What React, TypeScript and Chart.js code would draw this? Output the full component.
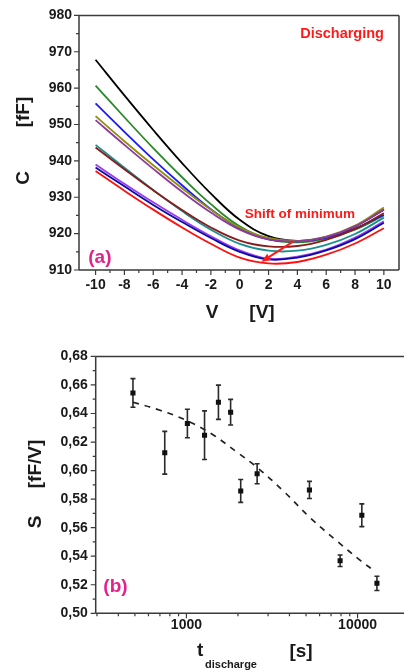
import React, { useEffect, useRef } from "react";
import { Chart, registerables } from "chart.js";

Chart.register(...registerables);

const FONT = 'Arial, "Liberation Sans", sans-serif';

// ---------- Chart (a): C-V curves ----------
const voltages = [-10, -8, -6, -4, -2, 0, 2, 4, 6, 8, 10];
const cBlack = [967.8, 958.0, 948.5, 939.4, 931.0, 923.8, 919.3, 918.0, 919.0, 922.0, 926.6];
const cGreen = [960.7, 952.0, 943.5, 935.5, 928.1, 922.0, 918.5, 917.6, 918.6, 921.1, 925.0];
const cBlue = [955.8, 948.0, 940.4, 933.3, 926.7, 921.4, 918.4, 917.9, 918.9, 921.4, 925.2];
const cOlive = [952.3, 945.4, 938.8, 932.5, 926.6, 921.7, 918.8, 918.0, 919.2, 922.2, 927.2];
const cPurple = [951.2, 944.4, 937.8, 931.5, 925.8, 921.1, 918.4, 917.9, 919.1, 922.0, 926.6];
const cTeal = [944.4, 938.1, 932.0, 926.2, 921.1, 917.2, 915.3, 915.3, 916.9, 919.9, 924.4];
const cMaroon = [943.7, 937.7, 931.9, 926.5, 921.7, 918.1, 916.5, 916.6, 918.3, 921.3, 925.6];
const cViolet = [939.0, 933.7, 928.6, 923.8, 919.3, 915.4, 913.1, 913.7, 915.6, 918.9, 923.4];
const cNavy = [938.2, 933.0, 927.9, 923.2, 918.8, 915.0, 912.9, 913.4, 915.4, 918.5, 923.0];
const cRed = [937.2, 931.8, 926.6, 921.7, 917.2, 913.4, 911.8, 912.2, 914.2, 917.3, 921.5];

const curvesA = [
  { values: cRed, color: "#ff1010" },
  { values: cNavy, color: "#0a0aa8" },
  { values: cViolet, color: "#9a3cf0" },
  { values: cMaroon, color: "#8a1c1c" },
  { values: cTeal, color: "#1b8f8f" },
  { values: cPurple, color: "#8e3a9e" },
  { values: cOlive, color: "#8f8f10" },
  { values: cBlue, color: "#1a1aff" },
  { values: cGreen, color: "#2a8a2a" },
  { values: cBlack, color: "#000000" },
];

const xTicksA = [-10, -8, -6, -4, -2, 0, 2, 4, 6, 8, 10];
const xMinorA = [-9, -7, -5, -3, -1, 1, 3, 5, 7, 9];
const yTicksA = [910, 920, 930, 940, 950, 960, 970, 980];
const yMinorA = [915, 925, 935, 945, 955, 965, 975];

const arrowFrom = { x: 3.7, y: 917.8 };
const arrowTo = { x: 1.5, y: 912.2 };

// ---------- Chart (b): S vs t_discharge ----------
const tDischarge = [487, 747, 1013, 1276, 1538, 1812, 2076, 2589, 5234, 7907, 10591, 12977];
const sValues = [0.6544, 0.6125, 0.633, 0.6248, 0.6479, 0.6409, 0.5857, 0.5978, 0.5864, 0.5368, 0.5687, 0.521];
const sErrors = [0.01, 0.015, 0.01, 0.017, 0.012, 0.009, 0.008, 0.007, 0.006, 0.004, 0.008, 0.005];
const fitT = [487, 700, 1000, 1400, 2000, 2600, 3700, 5300, 7600, 10500, 12300];
const fitS = [0.6479, 0.6423, 0.6351, 0.6258, 0.6124, 0.602, 0.5855, 0.5668, 0.5505, 0.5366, 0.5305];

const xTicksB = [1000, 10000];
const xMinorB = [300, 400, 500, 600, 700, 800, 900, 2000, 3000, 4000, 5000, 6000, 7000, 8000, 9000];
const yTicksB = [0.5, 0.52, 0.54, 0.56, 0.58, 0.6, 0.62, 0.64, 0.66, 0.68];
const yMinorB = [0.51, 0.53, 0.55, 0.57, 0.59, 0.61, 0.63, 0.65, 0.67];

const FRAME = "#3a3a3a";
const TEXT = "#1a1a1a";
const PINK = "#e4208a";
const RED = "#ff1a1a";

function framePlugin(opts: {
  xMajor: number[];
  xMinor: number[];
  yMajor: number[];
  yMinor: number[];
  drawRight: boolean;
  topToEdge: boolean;
}) {
  return {
    id: "frame",
    afterDatasetsDraw(chart: any) {
      const { ctx, chartArea, scales } = chart;
      const { left, right, top, bottom } = chartArea;
      const x = scales.x;
      const y = scales.y;
      ctx.save();
      ctx.strokeStyle = FRAME;
      ctx.lineWidth = 1.5;
      ctx.beginPath();
      ctx.moveTo(left, bottom);
      ctx.lineTo(left, top);
      ctx.moveTo(left, top);
      ctx.lineTo(opts.topToEdge ? chart.width : right, top);
      ctx.moveTo(left, bottom);
      ctx.lineTo(opts.topToEdge ? chart.width : right, bottom);
      if (opts.drawRight) {
        ctx.moveTo(right, top);
        ctx.lineTo(right, bottom);
      }
      ctx.stroke();
      ctx.lineWidth = 1.2;
      ctx.beginPath();
      opts.xMajor.forEach((v) => {
        const px = x.getPixelForValue(v);
        ctx.moveTo(px, bottom);
        ctx.lineTo(px, bottom + 5);
      });
      opts.xMinor.forEach((v) => {
        const px = x.getPixelForValue(v);
        if (px < left - 0.5 || px > chart.width) return;
        ctx.moveTo(px, bottom);
        ctx.lineTo(px, bottom + 3);
      });
      opts.yMajor.forEach((v) => {
        const py = y.getPixelForValue(v);
        ctx.moveTo(left, py);
        ctx.lineTo(left - 5, py);
      });
      opts.yMinor.forEach((v) => {
        const py = y.getPixelForValue(v);
        ctx.moveTo(left, py);
        ctx.lineTo(left - 3, py);
      });
      ctx.stroke();
      ctx.restore();
    },
  };
}

function rotatedText(ctx: any, text: string, x: number, y: number, font: string) {
  ctx.save();
  ctx.translate(x, y);
  ctx.rotate(-Math.PI / 2);
  ctx.font = font;
  ctx.textAlign = "center";
  ctx.textBaseline = "middle";
  ctx.fillText(text, 0, 0);
  ctx.restore();
}

const annotA = {
  id: "annotA",
  afterDraw(chart: any) {
    const { ctx, scales } = chart;
    const x = scales.x;
    const y = scales.y;
    ctx.save();
    const x1 = x.getPixelForValue(arrowFrom.x);
    const y1 = y.getPixelForValue(arrowFrom.y);
    const x2 = x.getPixelForValue(arrowTo.x);
    const y2 = y.getPixelForValue(arrowTo.y);
    const ang = Math.atan2(y2 - y1, x2 - x1);
    const hl = 10;
    ctx.strokeStyle = RED;
    ctx.fillStyle = RED;
    ctx.lineWidth = 2;
    ctx.beginPath();
    ctx.moveTo(x1, y1);
    ctx.lineTo(x2 - hl * 0.7 * Math.cos(ang), y2 - hl * 0.7 * Math.sin(ang));
    ctx.stroke();
    ctx.beginPath();
    ctx.moveTo(x2, y2);
    ctx.lineTo(x2 - hl * Math.cos(ang - 0.38), y2 - hl * Math.sin(ang - 0.38));
    ctx.lineTo(x2 - hl * Math.cos(ang + 0.38), y2 - hl * Math.sin(ang + 0.38));
    ctx.closePath();
    ctx.fill();

    ctx.textBaseline = "middle";
    ctx.textAlign = "center";
    ctx.font = `bold 14.5px ${FONT}`;
    ctx.fillText("Discharging", x.getPixelForValue(7.1), y.getPixelForValue(974.8));
    ctx.font = `bold 13.5px ${FONT}`;
    ctx.fillText("Shift of minimum", x.getPixelForValue(4.18), y.getPixelForValue(925.3));
    ctx.fillStyle = PINK;
    ctx.font = `bold 19px ${FONT}`;
    ctx.fillText("(a)", x.getPixelForValue(-9.7), y.getPixelForValue(913.5));

    ctx.fillStyle = TEXT;
    const tf = `bold 19px ${FONT}`;
    rotatedText(ctx, "C", 24, 178, tf);
    rotatedText(ctx, "[fF]", 24, 112, tf);
    ctx.font = tf;
    ctx.textAlign = "center";
    ctx.textBaseline = "middle";
    ctx.fillText("V", 212, 313);
    ctx.fillText("[V]", 262, 313);
    ctx.restore();
  },
};

const errorBarsB = {
  id: "errB",
  beforeDatasetsDraw(chart: any) {
    const { ctx, scales } = chart;
    const x = scales.x;
    const y = scales.y;
    ctx.save();
    ctx.strokeStyle = "#2a2a2a";
    ctx.lineWidth = 1.6;
    ctx.beginPath();
    tDischarge.forEach((t, i) => {
      const px = x.getPixelForValue(t);
      const yt = y.getPixelForValue(sValues[i] + sErrors[i]);
      const yb = y.getPixelForValue(sValues[i] - sErrors[i]);
      ctx.moveTo(px, yt);
      ctx.lineTo(px, yb);
      ctx.moveTo(px - 2.5, yt);
      ctx.lineTo(px + 2.5, yt);
      ctx.moveTo(px - 2.5, yb);
      ctx.lineTo(px + 2.5, yb);
    });
    ctx.stroke();
    ctx.restore();
  },
};

const annotB = {
  id: "annotB",
  afterDraw(chart: any) {
    const { ctx, scales } = chart;
    const x = scales.x;
    const y = scales.y;
    ctx.save();
    ctx.fillStyle = PINK;
    ctx.font = `bold 19px ${FONT}`;
    ctx.textAlign = "center";
    ctx.textBaseline = "middle";
    ctx.fillText("(b)", x.getPixelForValue(385), y.getPixelForValue(0.5184));

    ctx.fillStyle = TEXT;
    const tf = `bold 19px ${FONT}`;
    rotatedText(ctx, "S", 36, 182, tf);
    rotatedText(ctx, "[fF/V]", 36, 124, tf);
    ctx.font = tf;
    ctx.textAlign = "left";
    ctx.textBaseline = "alphabetic";
    ctx.fillText("t", 197, 316);
    ctx.font = `bold 11px ${FONT}`;
    ctx.fillText("discharge", 205, 328);
    ctx.font = tf;
    ctx.textAlign = "center";
    ctx.textBaseline = "middle";
    ctx.fillText("[s]", 301, 312);
    ctx.restore();
  },
};

const tickFont = { family: FONT, size: 14, weight: "bold" as const };

export default function App() {
  const refA = useRef<HTMLCanvasElement>(null);
  const refB = useRef<HTMLCanvasElement>(null);

  useEffect(() => {
    const chartA = new Chart(refA.current!, {
      type: "line",
      data: {
        datasets: curvesA.map((c) => ({
          data: voltages.map((v, i) => ({ x: v, y: c.values[i] })),
          borderColor: c.color,
          borderWidth: 1.8,
          pointRadius: 0,
          tension: 0.4,
          fill: false,
        })),
      },
      options: {
        responsive: false,
        animation: false,
        events: [],
        layout: { padding: { left: 0, top: 13, right: 5, bottom: 0 } },
        plugins: { legend: { display: false }, tooltip: { enabled: false } },
        scales: {
          x: {
            type: "linear",
            min: -11.15,
            max: 11.05,
            grid: { display: false, drawTicks: false },
            border: { display: false },
            ticks: {
              font: tickFont,
              color: TEXT,
              padding: 7,
              maxRotation: 0,
              autoSkip: false,
              callback: (v: any) => String(v),
            },
            afterBuildTicks: (s: any) => {
              s.ticks = xTicksA.map((v) => ({ value: v }));
            },
            afterFit: (s: any) => {
              s.height = 70;
            },
          },
          y: {
            type: "linear",
            min: 910,
            max: 980,
            grid: { display: false, drawTicks: false },
            border: { display: false },
            ticks: {
              font: tickFont,
              color: TEXT,
              padding: 7,
              autoSkip: false,
              callback: (v: any) => String(v),
            },
            afterBuildTicks: (s: any) => {
              s.ticks = yTicksA.map((v) => ({ value: v }));
            },
            afterFit: (s: any) => {
              s.width = 79;
            },
          },
        },
      },
      plugins: [
        framePlugin({
          xMajor: xTicksA,
          xMinor: xMinorA,
          yMajor: yTicksA,
          yMinor: yMinorA,
          drawRight: true,
          topToEdge: false,
        }),
        annotA,
      ],
    } as any);

    const chartB = new Chart(refB.current!, {
      type: "line",
      data: {
        datasets: [
          {
            data: tDischarge.map((t, i) => ({ x: t, y: sValues[i] })),
            showLine: false,
            pointStyle: "rect",
            pointRadius: 3.6,
            pointBackgroundColor: "#111",
            pointBorderColor: "#111",
            pointBorderWidth: 0,
          },
          {
            data: fitT.map((t, i) => ({ x: t, y: fitS[i] })),
            borderColor: "#222",
            borderWidth: 1.7,
            borderDash: [6, 6],
            pointRadius: 0,
            tension: 0.4,
            fill: false,
          },
        ],
      },
      options: {
        responsive: false,
        animation: false,
        events: [],
        layout: { padding: { left: 0, top: 15.7, right: 0, bottom: 0 } },
        plugins: { legend: { display: false }, tooltip: { enabled: false } },
        scales: {
          x: {
            type: "logarithmic",
            min: 295,
            max: 17700,
            grid: { display: false, drawTicks: false },
            border: { display: false },
            ticks: {
              font: tickFont,
              color: TEXT,
              padding: 3,
              maxRotation: 0,
              autoSkip: false,
              callback: (v: any) => String(v),
            },
            afterBuildTicks: (s: any) => {
              s.ticks = xTicksB.map((v) => ({ value: v }));
            },
            afterFit: (s: any) => {
              s.height = 58.7;
            },
          },
          y: {
            type: "linear",
            min: 0.5,
            max: 0.68,
            grid: { display: false, drawTicks: false },
            border: { display: false },
            ticks: {
              font: tickFont,
              color: TEXT,
              padding: 8,
              autoSkip: false,
              callback: (v: any) => Number(v).toFixed(2).replace(".", ","),
            },
            afterBuildTicks: (s: any) => {
              s.ticks = yTicksB.map((v) => ({ value: v }));
            },
            afterFit: (s: any) => {
              s.width = 95.7;
            },
          },
        },
      },
      plugins: [
        errorBarsB,
        framePlugin({
          xMajor: xTicksB,
          xMinor: xMinorB,
          yMajor: yTicksB,
          yMinor: yMinorB,
          drawRight: false,
          topToEdge: true,
        }),
        annotB,
      ],
    } as any);

    return () => {
      chartA.destroy();
      chartB.destroy();
    };
  }, []);

  return (
    <div
      style={{
        position: "fixed",
        left: 0,
        top: 0,
        width: 404,
        height: 672,
        background: "#fff",
        overflow: "hidden",
      }}
    >
      <canvas
        ref={refA}
        width={404}
        height={340}
        style={{ position: "absolute", left: 0, top: 0, width: 404, height: 340 }}
      />
      <canvas
        ref={refB}
        width={404}
        height={332}
        style={{ position: "absolute", left: 0, top: 340, width: 404, height: 332 }}
      />
    </div>
  );
}
